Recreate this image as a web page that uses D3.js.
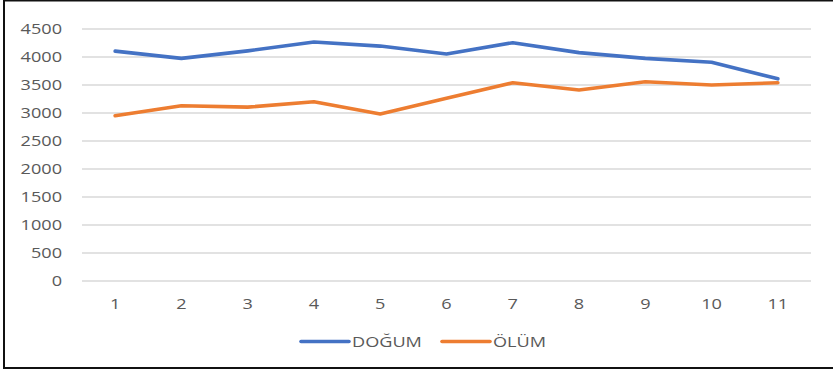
<!DOCTYPE html>
<html>
<head>
<meta charset="utf-8">
<script src="https://cdn.jsdelivr.net/npm/d3@7"></script>
<style>
  html, body { margin: 0; padding: 0; background: #fff; }
  svg { display: block; }
  text { font-family: "Open Sans", "Noto Sans", sans-serif; fill: #595959; }
</style>
</head>
<body>
<svg id="chart" width="833" height="373"></svg>
<script>
// Categories (x axis) and series values
const categories = ["1", "2", "3", "4", "5", "6", "7", "8", "9", "10", "11"];
const dogum = [4105, 3975, 4110, 4268, 4195, 4055, 4255, 4078, 3975, 3905, 3610];
const olum  = [2952, 3130, 3105, 3200, 2982, 3265, 3540, 3412, 3558, 3500, 3540];
const yTicks = [0, 500, 1000, 1500, 2000, 2500, 3000, 3500, 4000, 4500];
const seriesNames = ["DOĞUM", "ÖLÜM"];
const seriesColors = ["#4472C4", "#ED7D31"];

const W = 833, H = 373;
const plot = { left: 82, right: 811, top: 29, bottom: 281 };
const sx = 1.25;      // horizontal stretch of the label glyphs
const fs = 14.5;

const svg = d3.select("#chart");

// frame
svg.append("rect")
  .attr("x", 4).attr("y", 0.5)
  .attr("width", W + 10).attr("height", 367.5)
  .attr("fill", "none").attr("stroke", "#111").attr("stroke-width", 2);

const x = d3.scaleBand().domain(categories).range([plot.left, plot.right]);
const y = d3.scaleLinear().domain([0, 4500]).range([plot.bottom, plot.top]);

// horizontal gridlines
svg.append("g").selectAll("line").data(yTicks).join("line")
  .attr("x1", plot.left).attr("x2", plot.right)
  .attr("y1", d => y(d)).attr("y2", d => y(d))
  .attr("stroke", "#d9d9d9").attr("stroke-width", 1.3);

// y tick labels
svg.append("g").selectAll("text").data(yTicks).join("text")
  .attr("transform", d => `translate(62,${y(d) + 5.2}) scale(${sx},1)`)
  .attr("text-anchor", "end")
  .attr("font-size", fs)
  .text(d => d);

// x tick labels
svg.append("g").selectAll("text").data(categories).join("text")
  .attr("transform", d => `translate(${x(d) + x.bandwidth() / 2},309) scale(${sx},1)`)
  .attr("text-anchor", "middle")
  .attr("font-size", fs)
  .text(d => d);

// series lines
const line = d3.line()
  .x((d, i) => x(categories[i]) + x.bandwidth() / 2)
  .y(d => y(d));

[dogum, olum].forEach((vals, k) => {
  svg.append("path")
    .datum(vals)
    .attr("d", line)
    .attr("fill", "none")
    .attr("stroke", seriesColors[k])
    .attr("stroke-width", 3.6)
    .attr("stroke-linejoin", "round")
    .attr("stroke-linecap", "round");
});

// legend
const legendItems = [
  { name: seriesNames[0], color: seriesColors[0], x0: 301, x1: 349, tx: 352 },
  { name: seriesNames[1], color: seriesColors[1], x0: 442, x1: 490, tx: 493 }
];
const lg = svg.append("g");
legendItems.forEach(it => {
  lg.append("line")
    .attr("x1", it.x0).attr("x2", it.x1)
    .attr("y1", 341.5).attr("y2", 341.5)
    .attr("stroke", it.color).attr("stroke-width", 3.6)
    .attr("stroke-linecap", "round");
  lg.append("text")
    .attr("transform", `translate(${it.tx},347.3) scale(${sx},1)`)
    .attr("font-size", fs)
    .text(it.name);
});
</script>
</body>
</html>
